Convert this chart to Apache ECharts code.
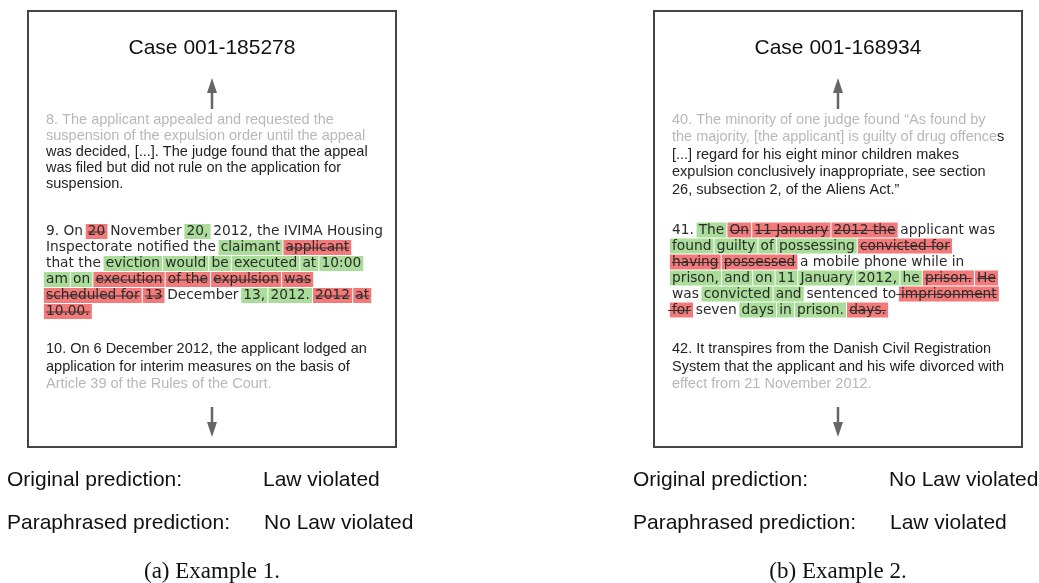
<!DOCTYPE html>
<html>
<head>
<meta charset="utf-8">
<script src="https://cdn.jsdelivr.net/npm/echarts@6/dist/echarts.min.js"></script>
<style>
  html, body { margin: 0; padding: 0; background: #fff; }
  #main { width: 1039px; height: 583px; }
</style>
</head>
<body>
<div id="main"></div>
<script>
// ---- texts (n = normal, f = faded, g = added/green, r = removed/red, s = removed with strike from the space before)
var panelTitles = ['Case 001-185278', 'Case 001-168934'];

var before1 = [
    [['8. The applicant appealed and requested the', 'f']],
    [['suspension of the expulsion order until the appeal', 'f']],
    [['was decided, [...]. The judge found that the appeal', 'n']],
    [['was filed but did not rule on the application for', 'n']],
    [['suspension.', 'n']]
];
var edited1 = [
    [['9. On', 'n'], ['20', 'r'], ['November', 'n'], ['20,', 'g'], ['2012, the IVIMA Housing', 'n']],
    [['Inspectorate notified the', 'n'], ['claimant', 'g'], ['applicant', 'r']],
    [['that the', 'n'], ['eviction', 'g'], ['would', 'g'], ['be', 'g'], ['executed', 'g'], ['at', 'g'], ['10:00', 'g']],
    [['am', 'g'], ['on', 'g'], ['execution', 'r'], ['of the', 'r'], ['expulsion', 'r'], ['was', 'r']],
    [['scheduled for', 'r'], ['13', 'r'], ['December', 'n'], ['13,', 'g'], ['2012.', 'g'], ['2012', 'r'], ['at', 'r']],
    [['10.00.', 'r']]
];
var after1 = [
    [['10. On 6 December 2012, the applicant lodged an', 'n']],
    [['application for interim measures on the basis of', 'n']],
    [['Article 39 of the Rules of the Court.', 'f']]
];

var before2 = [
    [['40. The minority of one judge found \u201cAs found by', 'f']],
    [['the majority, [the applicant] is guilty of drug offence', 'f'], ['s', 'n']],
    [['[...] regard for his eight minor children makes', 'n']],
    [['expulsion conclusively inappropriate, see section', 'n']],
    [['26, subsection 2, of the Aliens Act.\u201d', 'n']]
];
var edited2 = [
    [['41.', 'n'], ['The', 'g'], ['On', 'r'], ['11 January', 'r'], ['2012 the', 'r'], ['applicant was', 'n']],
    [['found', 'g'], ['guilty', 'g'], ['of', 'g'], ['possessing', 'g'], ['convicted for', 'r']],
    [['having', 'r'], ['possessed', 'r'], ['a mobile phone while in', 'n']],
    [['prison,', 'g'], ['and', 'g'], ['on', 'g'], ['11', 'g'], ['January', 'g'], ['2012,', 'g'], ['he', 'g'], ['prison.', 'r'], ['He', 'r']],
    [['was', 'n'], ['convicted', 'g'], ['and', 'g'], ['sentenced to', 'n'], ['imprisonment', 's']],
    [['for', 's'], ['seven', 'n'], ['days', 'g'], ['in', 'g'], ['prison.', 'g'], ['days.', 'r']]
];
var after2 = [
    [['42. It transpires from the Danish Civil Registration', 'n']],
    [['System that the applicant and his wife divorced with', 'n']],
    [['effect from 21 November 2012.', 'f']]
];

var origPred = ['Law violated', 'No Law violated'];
var paraPred = ['No Law violated', 'Law violated'];
var captions = ['(a) Example 1.', '(b) Example 2.'];

// ---- layout
var SANS = '"Liberation Sans", Arial, sans-serif';
var DEJAVU = '"DejaVu Sans", sans-serif';
var layout = [
    {x: 28, y: 11, w: 368, h: 436, a0: 120, aStep: 15.9, b0: 231.5, bStep: 16, c0: 349, cStep: 17.5},
    {x: 654, y: 11, w: 368, h: 436, a0: 120, aStep: 17.4, b0: 230, bStep: 16, c0: 349, cStep: 17.5}
];
var colors = {n: '#222', e: '#2a2a2a', f: '#b8b8b8', g: '#a9dd99', r: '#f27a7a', frame: '#444', arrow: '#666'};

var ctx = document.createElement('canvas').getContext('2d');
function measure(s, font){ ctx.font = font; return ctx.measureText(s).width; }

function textEl(s, x, y, font, fill, align){
    return {type: 'text', silent: true, z: 10,
        style: {text: s, x: x, y: y, font: font, fill: fill, align: align || 'left', verticalAlign: 'middle'}};
}

// plain paragraph, tokens glued together
function plainPara(lines, x, y0, step, out){
    var font = '14.5px ' + SANS;
    lines.forEach(function(line, i){
        var cx = x, y = y0 + i * step;
        line.forEach(function(t){
            out.push(textEl(t[0], cx, y, font, colors[t[1]]));
            cx += measure(t[0], font);
        });
    });
}

// edited paragraph, tokens separated by a space, with coloured boxes
function editPara(lines, x, y0, step, out){
    var font = '13.75px ' + DEJAVU;
    var sp = measure(' ', font);
    var extra = 0.45;              // extra room each side of a boxed word
    var pad = (sp - 1) / 2 + extra;
    lines.forEach(function(line, i){
        var cx = x, y = y0 + i * step;
        line.forEach(function(t, k){
            var prev = cx;
            var type = t[1];
            var boxed = type !== 'n';
            if (k > 0) cx += sp;
            if (boxed && k > 0) cx += extra;
            var w = measure(t[0], font);
            if (boxed) {
                out.push({type: 'rect', silent: true, z: 5,
                    shape: {x: cx - pad, y: y - 7.5, width: w + 2 * pad, height: 15},
                    style: {fill: type === 'g' ? colors.g : colors.r}});
            }
            out.push(textEl(t[0], cx, y, font, colors.e));
            if (type === 'r' || type === 's') {
                var sx = type === 's' ? (k > 0 ? prev : cx - 4) : cx;
                out.push({type: 'line', silent: true, z: 11,
                    shape: {x1: sx, y1: y + 0.5, x2: cx + w, y2: y + 0.5},
                    style: {stroke: '#333', lineWidth: 1}});
            }
            cx += w;
            if (boxed) cx += extra;
        });
    });
}

function arrow(cx, tip, tail, up, out){
    var head = 15, hw = 5;
    var base = up ? tip + head : tip - head;
    out.push({type: 'line', silent: true, shape: {x1: cx, y1: base, x2: cx, y2: tail},
        style: {stroke: colors.arrow, lineWidth: 2.5}});
    out.push({type: 'polygon', silent: true,
        shape: {points: [[cx, tip], [cx - hw, base], [cx + hw, base]]},
        style: {fill: colors.arrow}});
}

var befores = [before1, before2], edits = [edited1, edited2], afters = [after1, after2];
var elements = [];
layout.forEach(function(L, p){
    var cx = L.x + L.w / 2;
    var tx = L.x + 18;
    elements.push({type: 'rect', silent: true,
        shape: {x: L.x, y: L.y, width: L.w, height: L.h},
        style: {fill: 'none', stroke: colors.frame, lineWidth: 2}});
    elements.push(textEl(panelTitles[p], cx, 48, '21px ' + SANS, '#111', 'center'));
    arrow(cx, 78, 109, true, elements);
    plainPara(befores[p], tx, L.a0, L.aStep, elements);
    editPara(edits[p], tx, L.b0, L.bStep, elements);
    plainPara(afters[p], tx, L.c0, L.cStep, elements);
    arrow(cx, 437, 407, false, elements);

    elements.push(textEl('Original prediction:', L.x - 21, 480, '21px ' + SANS, '#111'));
    elements.push(textEl(origPred[p], L.x + 235, 480, '21px ' + SANS, '#111'));
    elements.push(textEl('Paraphrased prediction:', L.x - 21, 523, '21px ' + SANS, '#111'));
    elements.push(textEl(paraPred[p], L.x + 236, 523, '21px ' + SANS, '#111'));
    elements.push(textEl(captions[p], cx, 572, '23px "Liberation Serif", "Times New Roman", serif', '#111', 'center'));
});

var chart = echarts.init(document.getElementById('main'));
chart.setOption({
    backgroundColor: '#fff',
    animation: false,
    graphic: {elements: elements}
});
</script>
</body>
</html>
